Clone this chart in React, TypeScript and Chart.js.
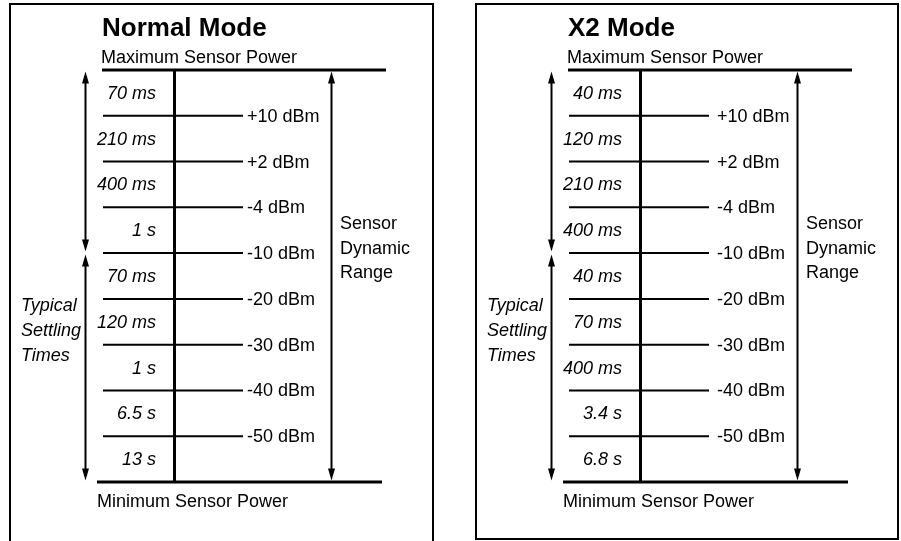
import React, { useEffect, useRef } from "react";
import { Chart, registerables } from "chart.js";

Chart.register(...registerables);

// ---- data ----
const powerLevels = ["+10 dBm", "+2 dBm", "-4 dBm", "-10 dBm", "-20 dBm", "-30 dBm", "-40 dBm", "-50 dBm"];
const normalTimes = ["70 ms", "210 ms", "400 ms", "1 s", "70 ms", "120 ms", "1 s", "6.5 s", "13 s"];
const x2Times = ["40 ms", "120 ms", "210 ms", "400 ms", "40 ms", "70 ms", "400 ms", "3.4 s", "6.8 s"];
const panelTitles = ["Normal Mode", "X2 Mode"];
const topLabel = "Maximum Sensor Power";
const bottomLabel = "Minimum Sensor Power";
const settlingLabel = ["Typical", "Settling", "Times"];
const rangeLabel = ["Sensor", "Dynamic", "Range"];
const splitLevel = "-10 dBm";

// ---- layout / style ----
const FONT = '"Liberation Sans", Arial, Helvetica, sans-serif';
const L = {
  tickStart: 103,
  tickEnd: 243,
  topStart: 102,
  topEnd: 386,
  botStart: 97,
  botEnd: 382,
  center: 174.5,
  timeRight: 156,
  leftArrow: 85.5,
  rightArrow: 331.5,
  settleX: 21,
  rangeX: 340,
  titleX: 102,
  settleCenter: 5.7,
  rangeCenter: 3.9,
  lineGap: 24.7,
  borderLeft: 10,
  borderTop: 4,
};

type PanelProps = {
  title: string;
  times: string[];
  width: number;
  left: number;
  labelX: number;
  borderRight: number;
  borderBottom: number | null;
};

function drawArrow(ctx: CanvasRenderingContext2D, x: number, y1: number, y2: number) {
  const head = 12;
  const hw = 3.5;
  ctx.save();
  ctx.strokeStyle = "#000";
  ctx.fillStyle = "#000";
  ctx.lineWidth = 2;
  ctx.beginPath();
  ctx.moveTo(x, y1 + head - 1);
  ctx.lineTo(x, y2 - head + 1);
  ctx.stroke();
  ctx.beginPath();
  ctx.moveTo(x, y1);
  ctx.lineTo(x - hw, y1 + head);
  ctx.lineTo(x + hw, y1 + head);
  ctx.closePath();
  ctx.fill();
  ctx.beginPath();
  ctx.moveTo(x, y2);
  ctx.lineTo(x - hw, y2 - head);
  ctx.lineTo(x + hw, y2 - head);
  ctx.closePath();
  ctx.fill();
  ctx.restore();
}

function Panel({ title, times, width, left, labelX, borderRight, borderBottom }: PanelProps) {
  const ref = useRef<HTMLCanvasElement | null>(null);
  useEffect(() => {
    if (!ref.current) return;
    const nLevels = powerLevels.length + 1;
    const splitIdx = powerLevels.indexOf(splitLevel) + 1;
    const base = {
      showLine: true,
      pointRadius: 0,
      borderColor: "#000",
      backgroundColor: "#000",
      fill: false,
      borderCapStyle: "butt" as const,
      clip: false as const,
      tension: 0,
    };
    const datasets: any[] = powerLevels.map((lab, i) => ({
      ...base,
      label: lab,
      borderWidth: 2,
      data: [
        { x: L.tickStart, y: i + 1 },
        { x: L.tickEnd, y: i + 1 },
      ],
    }));
    datasets.push({ ...base, label: topLabel, borderWidth: 3, data: [{ x: L.topStart, y: 0 }, { x: L.topEnd, y: 0 }] });
    datasets.push({ ...base, label: bottomLabel, borderWidth: 3, data: [{ x: L.botStart, y: nLevels }, { x: L.botEnd, y: nLevels }] });
    datasets.push({ ...base, label: "axis", borderWidth: 3, data: [{ x: L.center, y: 0 }, { x: L.center, y: nLevels }] });

    const textPlugin = {
      id: "diagramText",
      afterDatasetsDraw(chart: any) {
        const ctx: CanvasRenderingContext2D = chart.ctx;
        const xs = chart.scales.x;
        const ys = chart.scales.y;
        const X = (v: number) => xs.getPixelForValue(v);
        const Y = (v: number) => ys.getPixelForValue(v);
        ctx.save();
        // border
        ctx.strokeStyle = "#000";
        ctx.lineWidth = 2;
        ctx.beginPath();
        const bb = borderBottom === null ? chart.height + 10 : borderBottom;
        ctx.moveTo(L.borderLeft, bb);
        ctx.lineTo(L.borderLeft, L.borderTop);
        ctx.lineTo(borderRight, L.borderTop);
        ctx.lineTo(borderRight, bb);
        if (borderBottom !== null) ctx.closePath();
        ctx.stroke();

        ctx.fillStyle = "#000";
        const topY = Y(0);
        const botY = Y(nLevels);
        // title
        ctx.font = `bold 26px ${FONT}`;
        ctx.textAlign = "left";
        ctx.textBaseline = "alphabetic";
        ctx.fillText(title, X(L.titleX), topY - 34);
        ctx.font = `18px ${FONT}`;
        ctx.fillText(topLabel, X(L.topStart - 1), topY - 7);
        ctx.fillText(bottomLabel, X(L.botStart), botY + 25);

        // power level labels
        ctx.textBaseline = "middle";
        powerLevels.forEach((lab, i) => {
          ctx.fillText(lab, X(labelX), Y(i + 1) + 1);
        });
        // times
        ctx.font = `italic 18px ${FONT}`;
        ctx.textAlign = "right";
        times.forEach((t, i) => {
          ctx.fillText(t, X(L.timeRight), Y(i + 0.5) + 1);
        });
        // settling label
        ctx.textAlign = "left";
        settlingLabel.forEach((t, i) => {
          ctx.fillText(t, X(L.settleX), Y(L.settleCenter) + (i - 1) * L.lineGap);
        });
        ctx.font = `18px ${FONT}`;
        rangeLabel.forEach((t, i) => {
          ctx.fillText(t, X(L.rangeX), Y(L.rangeCenter) + (i - 1) * L.lineGap);
        });
        ctx.restore();

        // arrows
        const splitY = Y(splitIdx);
        drawArrow(ctx, X(L.leftArrow), topY + 1.5, splitY - 1.5);
        drawArrow(ctx, X(L.leftArrow), splitY + 1.5, botY - 1.5);
        drawArrow(ctx, X(L.rightArrow), topY + 1.5, botY - 1.5);
      },
    };

    const chart = new Chart(ref.current, {
      type: "scatter",
      data: { datasets },
      options: {
        animation: false,
        responsive: false,
        devicePixelRatio: 1,
        events: [],
        layout: { padding: { top: 70, bottom: 59, left: 0, right: 0 } },
        plugins: { legend: { display: false }, tooltip: { enabled: false } },
        scales: {
          x: { type: "linear", min: 0, max: width, display: false },
          y: { type: "linear", min: 0, max: nLevels, reverse: true, display: false },
        },
      },
      plugins: [textPlugin],
    } as any);
    return () => chart.destroy();
  }, [title, times, width, labelX, borderRight, borderBottom]);

  return (
    <canvas
      ref={ref}
      width={width}
      height={541}
      style={{ position: "absolute", left, top: 0, width, height: 541 }}
    />
  );
}

export default function App() {
  return (
    <div style={{ position: "fixed", left: 0, top: 0, width: 901, height: 541, background: "#fff", overflow: "hidden" }}>
      <Panel title={panelTitles[0]} times={normalTimes} width={466} left={0} labelX={247} borderRight={433} borderBottom={null} />
      <Panel title={panelTitles[1]} times={x2Times} width={435} left={466} labelX={251} borderRight={432} borderBottom={539} />
    </div>
  );
}
